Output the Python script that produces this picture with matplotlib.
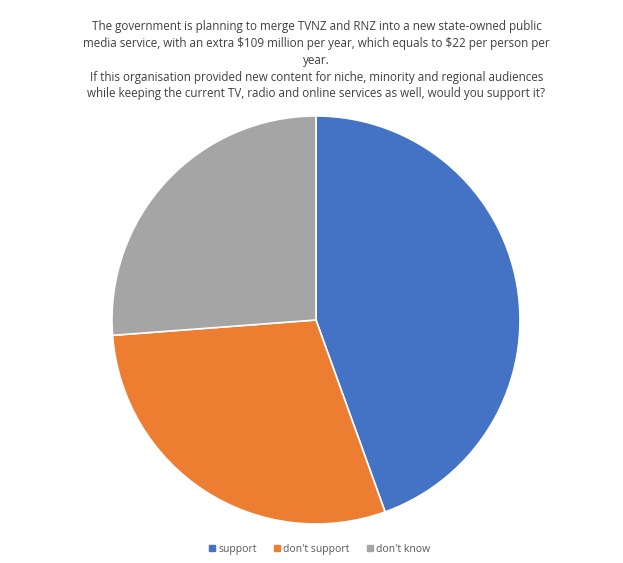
import matplotlib.pyplot as plt
from matplotlib.lines import Line2D

labels = ["support", "don't support", "don't know"]
shares = [44.5, 29.3, 26.2]
colors = ["#4472C4", "#ED7D31", "#A5A5A5"]

title = ("The government is planning to merge TVNZ and RNZ into a new state-owned public\n"
         "media service, with an extra \\$109 million per year, which equals to \\$22 per person per\n"
         "year.\n"
         "If this organisation provided new content for niche, minority and regional audiences\n"
         "while keeping the current TV, radio and online services as well, would you support it?")

plt.rcParams['font.family'] = ['Open Sans', 'DejaVu Sans']

fig = plt.figure(figsize=(6.23, 5.63), dpi=100)
ax = fig.add_axes([0.1797, 0.0693, 0.655, 0.7247])
ax.pie(shares, colors=colors, startangle=90, counterclock=False, radius=1,
       wedgeprops=dict(edgecolor='white', linewidth=1.2))
ax.set_xlim(-1, 1)
ax.set_ylim(-1, 1)

fig.text(0.508, 0.964, title, ha='center', va='top', fontsize=8.4,
         color='#404040', linespacing=1.38)

handles = [Line2D([], [], marker='s', linestyle='', color=c, markersize=4.5) for c in colors]
fig.legend(handles, labels, loc='center', bbox_to_anchor=(0.511, 0.024), ncol=3,
           frameon=False, fontsize=7.5, labelcolor='#595959', handletextpad=0.15,
           columnspacing=1.4, handlelength=1)

fig.savefig('out.png', dpi=100)
